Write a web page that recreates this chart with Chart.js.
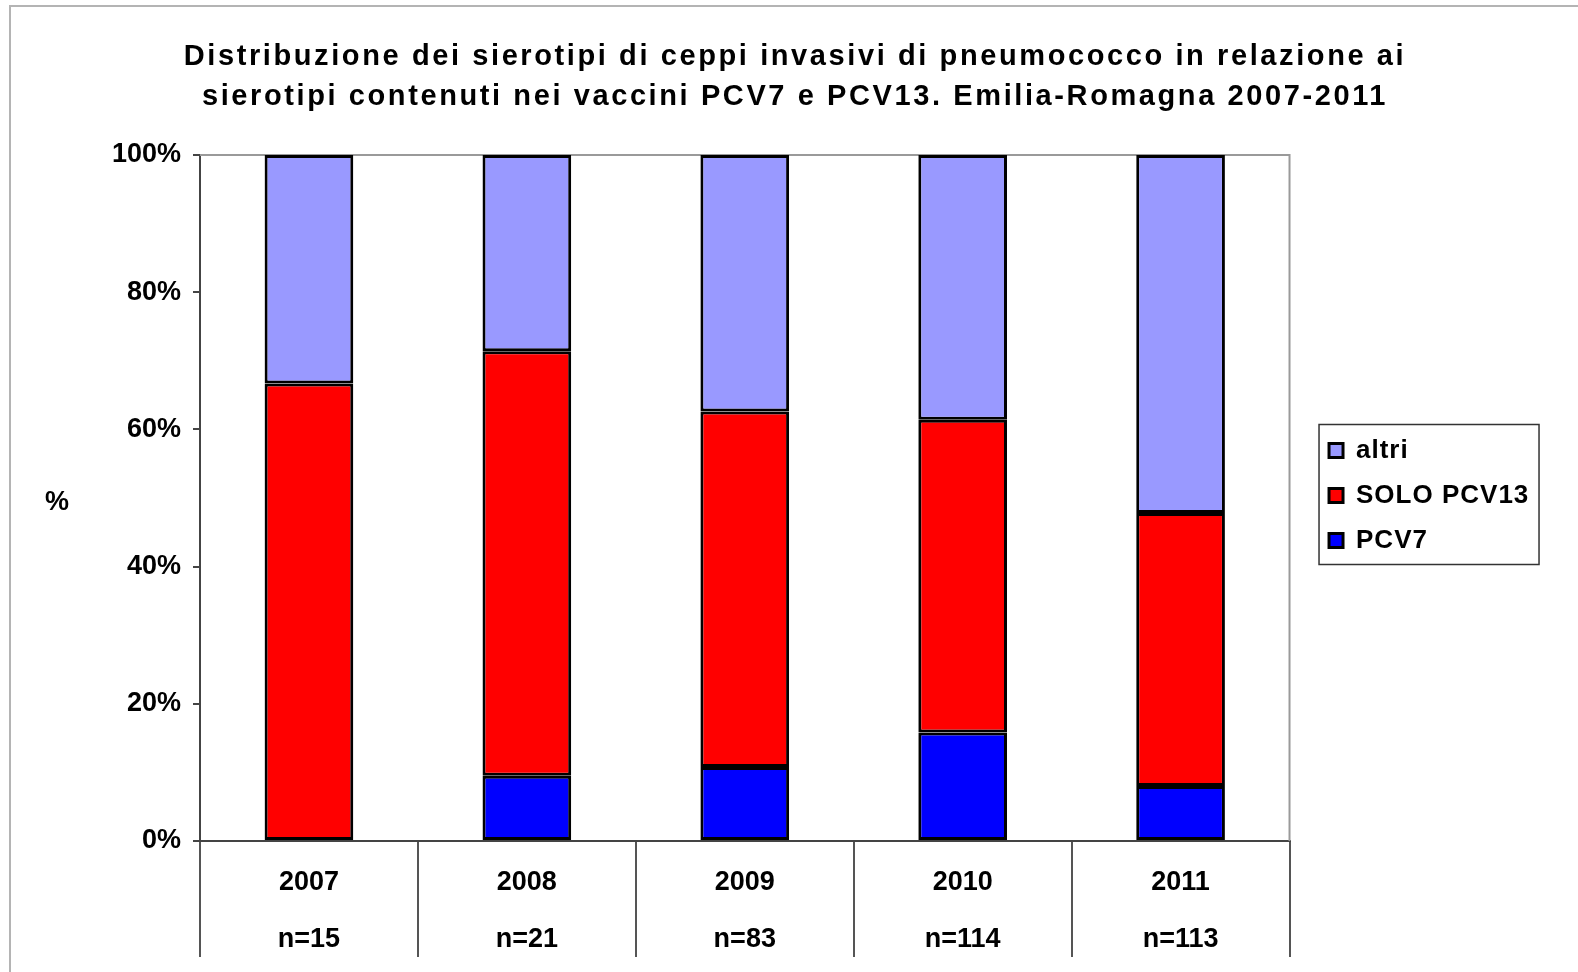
<!DOCTYPE html>
<html><head><meta charset="utf-8">
<script src="https://cdn.jsdelivr.net/npm/chart.js@4/dist/chart.umd.min.js"></script>
<style>html,body{margin:0;padding:0;background:#fff}#wrap{position:relative;width:1578px;height:972px}</style>
</head><body><div id="wrap"><canvas id="c" width="1578" height="972"></canvas></div>
<script>
// ---- data ----
const years = ['2007', '2008', '2009', '2010', '2011'];
const sampleSizes = ['n=15', 'n=21', 'n=83', 'n=114', 'n=113'];
const pcv7 = [0, 9.5, 10.8, 15.8, 8.0];
const soloPcv13 = [66.7, 61.9, 51.8, 45.6, 39.8];
const altri = [33.3, 28.6, 37.4, 38.6, 52.2];
const yTickStep = 20;
const titleLines = [
  'Distribuzione dei sierotipi di ceppi invasivi di pneumococco in relazione ai',
  'sierotipi contenuti nei vaccini PCV7 e PCV13. Emilia-Romagna 2007-2011'
];
const yAxisLabel = '%';

const FONT = "'Liberation Sans', Arial, sans-serif";

function withSpacing(box, sp) {
  if (!box || box.__spaced) return;
  const orig = box.draw;
  box.draw = function () {
    const c = this.ctx;
    c.save();
    try { c.letterSpacing = sp; } catch (e) {}
    orig.apply(this, arguments);
    c.restore();
  };
  box.__spaced = true;
}

const decorations = {
  id: 'decorations',
  afterInit(chart) {
    withSpacing(chart.titleBlock, '2.6px');
    withSpacing(chart.legend, '1px');
  },
  beforeDatasetsDraw(chart) {
    const ctx = chart.ctx, a = chart.chartArea;
    ctx.save();
    ctx.strokeStyle = '#9a9a9a';
    ctx.lineWidth = 2;
    ctx.beginPath();
    ctx.moveTo(a.left, a.top);
    ctx.lineTo(a.right, a.top);
    ctx.lineTo(a.right, a.bottom);
    ctx.stroke();
    ctx.restore();
  },
  afterDraw(chart) {
    const ctx = chart.ctx;
    ctx.save();
    // outer frame
    ctx.strokeStyle = '#b4b4b4';
    ctx.lineWidth = 2;
    ctx.beginPath();
    ctx.moveTo(10, chart.height);
    ctx.lineTo(10, 6);
    ctx.lineTo(chart.width, 6);
    ctx.stroke();
    // y axis label
    ctx.fillStyle = '#000';
    ctx.font = 'bold 27px ' + FONT;
    ctx.textAlign = 'center';
    ctx.textBaseline = 'middle';
    ctx.fillText(yAxisLabel, 57, 503);
    // legend frame
    const lg = chart.legend;
    if (lg && lg.legendHitBoxes && lg.legendHitBoxes.length) {
      const hb = lg.legendHitBoxes;
      const first = hb[0], last = hb[hb.length - 1];
      const mTop = first.top + (first.height - 14) / 2;
      const mBot = last.top + (last.height - 14) / 2 + 14;
      ctx.strokeStyle = '#333';
      ctx.lineWidth = 1.5;
      ctx.strokeRect(first.left - 10, mTop - 19, 220, (mBot - mTop) + 36);
    }
    ctx.restore();
  }
};

const labels = years.map((y, i) => [y, sampleSizes[i]]);

new Chart(document.getElementById('c'), {
  type: 'bar',
  data: {
    labels: labels,
    datasets: [
      { label: 'PCV7', data: pcv7, backgroundColor: '#0000FF' },
      { label: 'SOLO PCV13', data: soloPcv13, backgroundColor: '#FF0000' },
      { label: 'altri', data: altri, backgroundColor: '#9999FF' }
    ].map(d => Object.assign(d, {
      borderColor: '#000', borderWidth: 3, borderSkipped: false,
      barPercentage: 0.407, categoryPercentage: 1.0
    }))
  },
  options: {
    responsive: false,
    animation: false,
    devicePixelRatio: 1,
    layout: { padding: { left: 60.7, right: 48.7, top: 19, bottom: 0 } },
    plugins: {
      title: {
        display: true, text: titleLines, color: '#000',
        font: { family: FONT, size: 29, weight: 'bold', lineHeight: 40.3 / 29 },
        padding: { top: 17.85, bottom: 37.55 }
      },
      legend: {
        position: 'right', reverse: true, fullSize: true, align: 'center',
        labels: {
          color: '#000', boxWidth: 14, boxHeight: 14, padding: 19,
          font: { family: FONT, size: 26, weight: 'bold' }
        }
      },
      tooltip: { enabled: false }
    },
    scales: {
      x: {
        stacked: true,
        grid: { offset: true, drawOnChartArea: false, drawTicks: true, tickLength: 116, color: '#555', lineWidth: 2 },
        border: { color: '#444', width: 2 },
        ticks: { color: '#000', padding: -103, maxRotation: 0, autoSkip: false,
          font: { family: FONT, size: 27, weight: 'bold', lineHeight: 57 / 27 } },
        afterFit: s => { s.height = 131; }
      },
      y: {
        stacked: true, min: 0, max: 100,
        grid: { drawOnChartArea: false, tickLength: 7, color: '#444', lineWidth: 2 },
        border: { color: '#444', width: 2 },
        ticks: { stepSize: yTickStep, color: '#000', padding: 12, callback: v => v + '%',
          font: { family: FONT, size: 27, weight: 'bold' } },
        afterFit: s => { s.width = 200 - 60.7; }
      },
      y2: {
        position: 'right', min: 0, max: 100,
        grid: { display: false }, ticks: { display: false }, border: { display: false },
        afterFit: s => { s.width = 20.5; }
      }
    }
  },
  plugins: [decorations]
});
</script>
</body></html>
